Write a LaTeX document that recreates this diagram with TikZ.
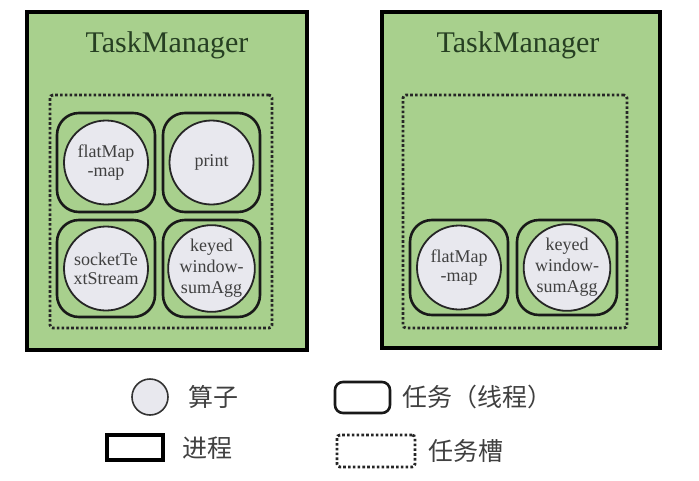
\documentclass[tikz,border=0pt]{standalone}
\usepackage{fontspec}
\setmainfont{Liberation Serif}
\newfontfamily\cjk{Noto Sans CJK SC}
\definecolor{tmgreen}{HTML}{A8D08D}
\definecolor{opfill}{HTML}{E8E8EE}
\definecolor{titlec}{HTML}{263F22}
\definecolor{optext}{HTML}{404040}
\definecolor{legtext}{HTML}{404040}
\begin{document}
\begin{tikzpicture}[x=1pt,y=-1pt,
  proc/.style={draw=black,line width=4pt,fill=tmgreen,inner sep=0pt},
  slot/.style={draw=black!85,line width=2.8pt,dash pattern=on 2.6pt off 2.2pt,inner sep=0pt,rounded corners=3pt},
  task/.style={draw=black!90,line width=2.6pt,rounded corners=22pt,inner sep=0pt},
  op/.style={circle,draw=black!85,line width=1.8pt,fill=opfill,inner sep=0pt,minimum size=84pt,
    text=optext,align=center,font=\fontsize{18}{19}\selectfont},
  ttl/.style={text=titlec,font=\fontsize{30}{36}\selectfont,inner sep=0pt},
  leg/.style={anchor=west,text=legtext,font=\cjk\fontsize{25}{28}\selectfont,inner sep=0pt}]
\useasboundingbox[fill=white] (0,0) rectangle (699,480);
% left TaskManager
\node[proc,minimum width=280pt,minimum height=338pt] (tmL) at (167,181) {};
\node[ttl] (tmLt) at (167,45) {TaskManager};
\node[slot,minimum width=222pt,minimum height=233pt] (slL) at (161,211.5) {};
\node[task,minimum width=98pt,minimum height=99pt] (tL1) at (106,162.5) {};
\node[task,minimum width=97pt,minimum height=99pt] (tL2) at (211.5,162.5) {};
\node[task,minimum width=98pt,minimum height=97pt] (tL3) at (106,268.5) {};
\node[task,minimum width=97pt,minimum height=97pt] (tL4) at (211.5,268.5) {};
\node[op] (oL1) at (tL1) {flatMap\\-map};
\node[op] (oL2) at (tL2) {print};
\node[op] (oL3) at (tL3) {socketTe\\xtStream};
\node[op,font=\fontsize{18}{21}\selectfont] (oL4) at (tL4) {keyed\\window-\\sumAgg};
% right TaskManager
\node[proc,minimum width=278pt,minimum height=336pt] (tmR) at (521,180) {};
\node[ttl] (tmRt) at (518,45) {TaskManager};
\node[slot,minimum width=224pt,minimum height=233pt] (slR) at (515,211.5) {};
\node[task,minimum width=98pt,minimum height=95pt] (tR1) at (459,267.5) {};
\node[task,minimum width=100pt,minimum height=95pt] (tR2) at (567,267.5) {};
\node[op] (oR1) at (tR1) {flatMap\\-map};
\node[op,font=\fontsize{18}{21}\selectfont] (oR2) at (tR2) {keyed\\window-\\sumAgg};
% legend
\node[circle,draw=black!80,line width=1.6pt,fill=opfill,minimum size=36pt,inner sep=0pt] (lgop) at (150,397) {};
\node[leg] (lgopt) at (188,397) {算子};
\node[draw=black!90,line width=2.6pt,rounded corners=8pt,minimum width=55pt,minimum height=31pt,inner sep=0pt] (lgtask) at (362.5,397.5) {};
\node[leg] (lgtaskt) at (402,397) {任务（线程）};
\node[draw=black,line width=4pt,minimum width=56pt,minimum height=25pt,inner sep=0pt] (lgproc) at (135,447.5) {};
\node[leg] (lgproct) at (182,448) {进程};
\node[slot,minimum width=78pt,minimum height=32pt] (lgslot) at (376,451) {};
\node[leg] (lgslott) at (428,451) {任务槽};
\end{tikzpicture}
\end{document}
